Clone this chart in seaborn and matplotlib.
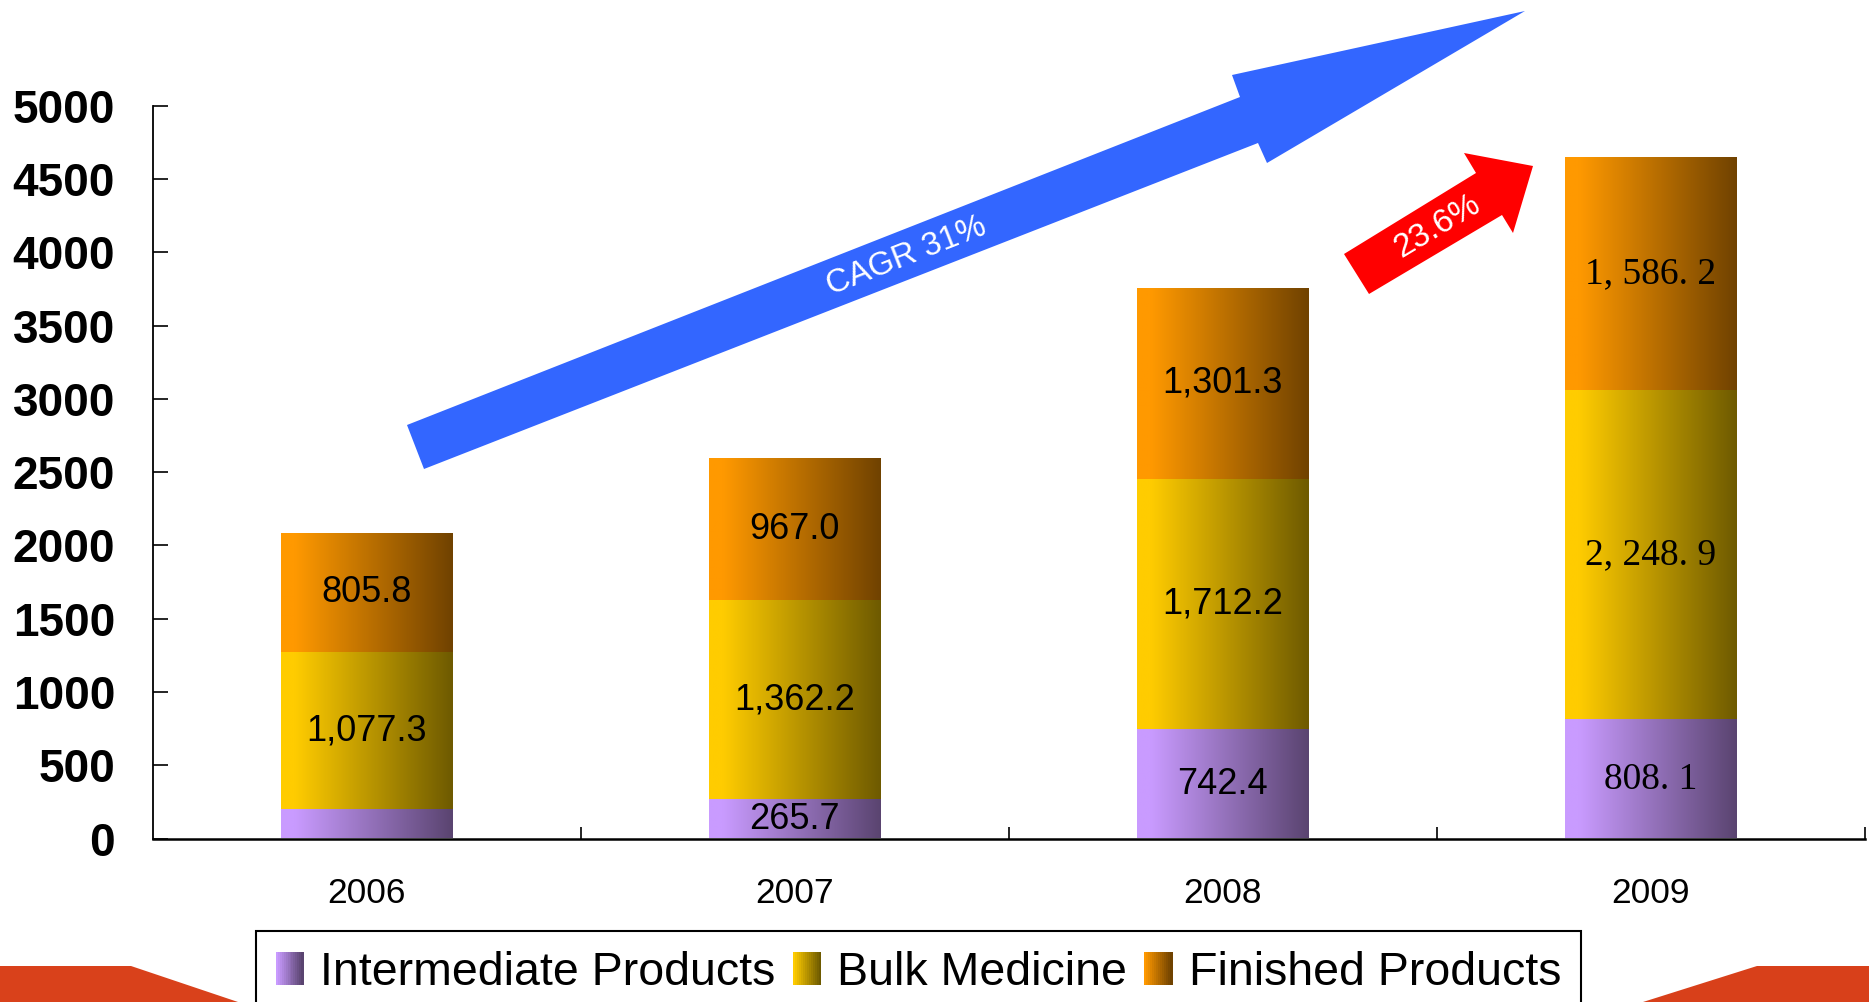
import numpy as np
import pandas as pd
import matplotlib
matplotlib.use("Agg")
import matplotlib.pyplot as plt
import seaborn as sns
from matplotlib.patches import Polygon, Rectangle
from matplotlib.legend_handler import HandlerBase
from matplotlib.colors import to_rgb

# ---------------- data ----------------
years = ["2006", "2007", "2008", "2009"]
intermediate = [195.0, 265.7, 742.4, 808.1]
bulk = [1077.3, 1362.2, 1712.2, 2248.9]
finished = [805.8, 967.0, 1301.3, 1586.2]
series_names = ["Intermediate Products", "Bulk Medicine", "Finished Products"]
labels_intermediate = ["", "265.7", "742.4", "808. 1"]
labels_bulk = ["1,077.3", "1,362.2", "1,712.2", "2, 248. 9"]
labels_finished = ["805.8", "967.0", "1,301.3", "1, 586. 2"]
yticks = list(range(0, 5001, 500))
cagr_label = "CAGR 31%"
yoy_label = "23.6%"

# gradient colours (left -> right)
grad_colors = {
    "Intermediate Products": ("#C99BFF", "#5A4470"),
    "Bulk Medicine": ("#FFCC00", "#6E5A00"),
    "Finished Products": ("#FF9900", "#704200"),
}

sns.set_style("ticks")
plt.rcParams["font.family"] = ["Liberation Sans", "DejaVu Sans"]

W, H = 1869, 1002
fig = plt.figure(figsize=(W / 100, H / 100), dpi=100)
fig.patch.set_facecolor("white")

ax_left, ax_right, ax_top, ax_bottom = 152.6, 1865, 105.7, 838.5
ax = fig.add_axes([ax_left / W, 1 - ax_bottom / H, (ax_right - ax_left) / W, (ax_bottom - ax_top) / H])

df = pd.DataFrame({"year": years, "Intermediate Products": intermediate,
                   "Bulk Medicine": bulk, "Finished Products": finished})
df["c1"] = df["Intermediate Products"]
df["c2"] = df["c1"] + df["Bulk Medicine"]
df["c3"] = df["c2"] + df["Finished Products"]

layers = [("Finished Products", "c3", "c2", labels_finished),
          ("Bulk Medicine", "c2", "c1", labels_bulk),
          ("Intermediate Products", "c1", None, labels_intermediate)]


def gradient_img(c0, c1, n=256):
    a = np.array(to_rgb(c0))
    b = np.array(to_rgb(c1))
    t = np.linspace(0, 1, n)
    t = np.clip((t - 0.08) / 0.92, 0, 1)
    img = a[None, :] * (1 - t[:, None]) + b[None, :] * t[:, None]
    return img[None, :, :]


for z, (name, topcol, botcol, labs) in enumerate(layers):
    sns.barplot(data=df, x="year", y=topcol, width=0.4, color=grad_colors[name][0],
                ax=ax, saturation=1, errorbar=None, zorder=2 + z)
    cont = ax.containers[-1]
    for i, p in enumerate(cont.patches):
        x0 = p.get_x()
        w = p.get_width()
        top = p.get_height()
        bottom = df[botcol].iloc[i] if botcol else 0.0
        p.set_visible(False)
        ax.imshow(gradient_img(*grad_colors[name]), extent=[x0, x0 + w, bottom, top],
                  aspect="auto", interpolation="bilinear", zorder=2 + z)
        lab = labs[i]
        if lab:
            if i == 3:
                fam, fs = ["Liberation Serif", "DejaVu Serif"], 27
            else:
                fam, fs = ["Liberation Sans", "DejaVu Sans"], 26
            ax.text(x0 + w / 2, (bottom + top) / 2, lab, ha="center", va="center",
                    fontsize=fs, color="black", family=fam, zorder=10)

ax.set_xlim(-0.5, 3.5)
ax.set_ylim(0, 5000)
ax.set_yticks(yticks)
ax.set_yticklabels([str(v) for v in yticks])
ax.set_xlabel("")
ax.set_ylabel("")
sns.despine(ax=ax, top=True, right=True)
ax.spines["left"].set_linewidth(1.3)
ax.spines["bottom"].set_linewidth(1.8)
ax.spines["left"].set_color("black")
ax.spines["bottom"].set_color("black")

ax.tick_params(axis="y", direction="in", length=11, width=1.2, pad=27, labelsize=33,
               colors="black", labelcolor="black")
for t in ax.get_yticklabels():
    t.set_fontweight("bold")
ax.set_xticks([0, 1, 2, 3])
ax.set_xticklabels(years)
ax.tick_params(axis="x", which="major", length=0, pad=28, labelsize=25.5,
               colors="black", labelcolor="black")
ax.set_xticks([0.5, 1.5, 2.5, 3.5], minor=True)
ax.tick_params(axis="x", which="minor", direction="in", length=9, width=1.2, color="black")
ax.set_facecolor("white")


def fpts(pts):
    return [(x / W, 1 - y / H) for x, y in pts]


# decorative slide shapes at the bottom
fig.add_artist(Polygon(fpts([(0, 966), (131, 966), (238, 1002), (0, 1002)]),
                       closed=True, facecolor="#D9411B", edgecolor="none",
                       transform=fig.transFigure, zorder=0))
fig.add_artist(Polygon(fpts([(1757, 966), (1869, 966), (1869, 1002), (1643, 1002)]),
                       closed=True, facecolor="#D8401A", edgecolor="none",
                       transform=fig.transFigure, zorder=0))

# growth arrows
blue = [(407, 425), (1240, 97), (1232, 75), (1525, 11), (1267, 163), (1258, 143), (424, 469)]
fig.add_artist(Polygon(fpts(blue), closed=True, facecolor="#3366FF", edgecolor="none",
                       transform=fig.transFigure, zorder=5))
red = [(1344, 254), (1476, 173), (1464, 153), (1533, 166), (1513, 233), (1502, 215), (1369, 294)]
fig.add_artist(Polygon(fpts(red), closed=True, facecolor="#FF0000", edgecolor="none",
                       transform=fig.transFigure, zorder=5))
fig.text(906 / W, 1 - 256 / H, cagr_label, rotation=21.4, rotation_mode="anchor",
         ha="center", va="center", color="white", fontsize=23.5, zorder=6)
fig.text(1438 / W, 1 - 226 / H, yoy_label, rotation=31, rotation_mode="anchor",
         ha="center", va="center", color="white", fontsize=24, zorder=6)


# legend with gradient handles
class GradHandler(HandlerBase):
    def __init__(self, c0, c1):
        super().__init__()
        self.c0 = np.array(to_rgb(c0))
        self.c1 = np.array(to_rgb(c1))

    def create_artists(self, legend, orig_handle, xdescent, ydescent, width, height, fontsize, trans):
        n = 14
        arts = []
        for k in range(n):
            t = k / (n - 1)
            col = self.c0 * (1 - t) + self.c1 * t
            r = Rectangle((-xdescent + width * k / n, -ydescent), width / n * 1.08, height,
                          facecolor=col, edgecolor="none", transform=trans)
            arts.append(r)
        return arts


handles = [Rectangle((0, 0), 1, 1) for _ in series_names]
hmap = {h: GradHandler(*grad_colors[n]) for h, n in zip(handles, series_names)}
leg = fig.legend(handles, series_names, handler_map=hmap, loc="upper left",
                 bbox_to_anchor=(256 / W, 1 - 931 / H), bbox_transform=fig.transFigure,
                 ncol=3, fontsize=33.5, frameon=True, fancybox=False, edgecolor="black",
                 framealpha=1, facecolor="white", handlelength=0.6, handleheight=0.7,
                 handletextpad=0.35, columnspacing=0.38, borderpad=0.42, borderaxespad=0,
                 labelcolor="black")
leg.get_frame().set_linewidth(1.5)
leg.set_zorder(3)

fig.savefig("out.png", dpi=100, facecolor="white")
